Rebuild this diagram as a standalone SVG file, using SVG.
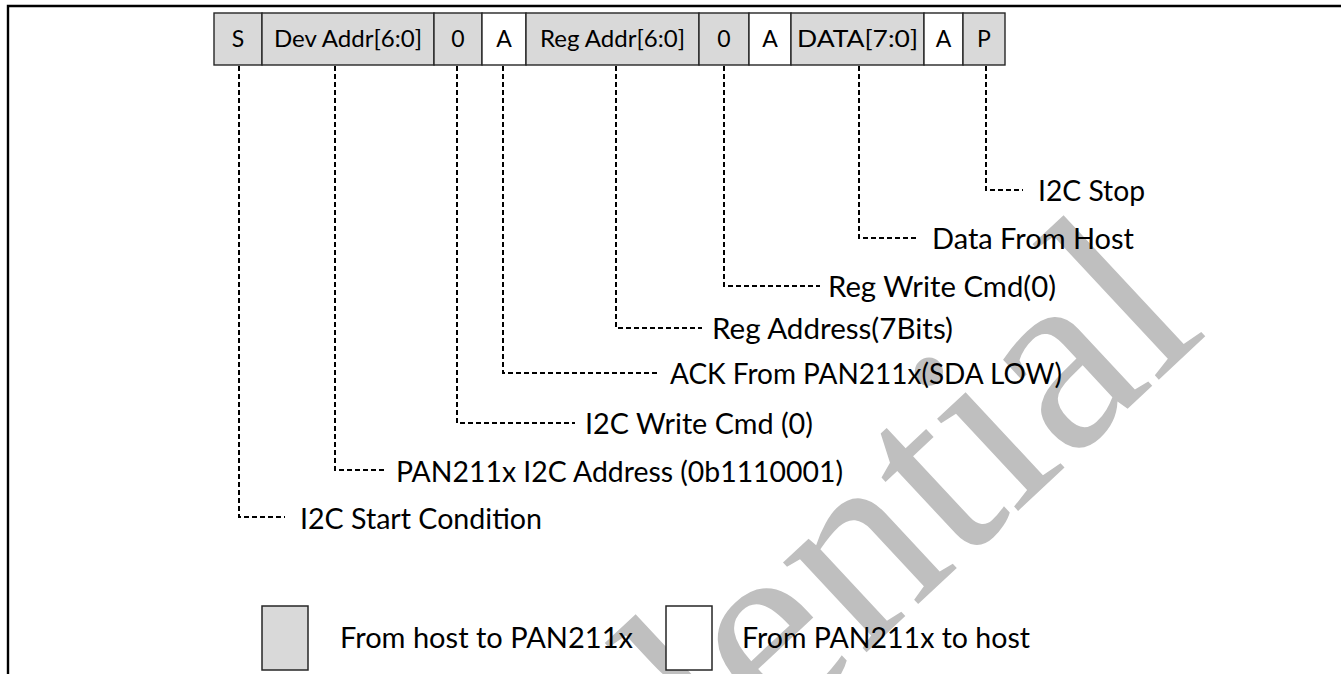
<svg xmlns="http://www.w3.org/2000/svg" width="1341" height="674" viewBox="0 0 1341 674">
<defs>
<style>
.wm{font-family:"Liberation Serif","Times New Roman",serif;font-size:267px;fill:#bfbfbf}
.cell{stroke:#262626;stroke-width:1.4}
.g{fill:#d9d9d9}
.w{fill:#ffffff}
.ct{font-family:Lato,"Liberation Sans",sans-serif;font-size:23px;fill:#000;text-anchor:middle}
.lt{font-family:Lato,"Liberation Sans",sans-serif;font-size:28.5px;fill:#000}
.dash{fill:none;stroke:#000;stroke-width:2;stroke-dasharray:5 3}
.frame{fill:none;stroke:#000;stroke-width:2.4}
.leg{stroke:#262626;stroke-width:1.5}
</style>
</defs>
<rect width="1341" height="674" fill="#ffffff"/>
<g id="watermark">
<text class="wm" transform="translate(233,1243) rotate(-43)">Confidential</text>
</g>
<path id="frame" class="frame" d="M8,674 V6 H1341"/>
<g id="connectors">
<path class="dash" d="M239,66 V517 H285"/>
<path class="dash" d="M335,66 V470 H385"/>
<path class="dash" d="M457,66 V423 H575"/>
<path class="dash" d="M503,66 V373 H658"/>
<path class="dash" d="M616,66 V328 H702"/>
<path class="dash" d="M724,66 V286 H820"/>
<path class="dash" d="M859,66 V238 H918"/>
<path class="dash" d="M986,66 V190 H1023"/>
</g>
<g id="cell-s"><rect class="cell g" x="214" y="13" width="48" height="52"/><text class="ct" x="238" y="47">S</text></g>
<g id="cell-devaddr"><rect class="cell g" x="262" y="13" width="172" height="52"/><text class="ct" x="348" y="47" textLength="148" lengthAdjust="spacingAndGlyphs">Dev Addr[6:0]</text></g>
<g id="cell-w0"><rect class="cell g" x="434" y="13" width="48" height="52"/><text class="ct" x="458" y="47">0</text></g>
<g id="cell-a1"><rect class="cell w" x="482" y="13" width="44" height="52"/><text class="ct" x="504" y="47">A</text></g>
<g id="cell-regaddr"><rect class="cell g" x="526" y="13" width="173" height="52"/><text class="ct" x="612.5" y="47" textLength="145" lengthAdjust="spacingAndGlyphs">Reg Addr[6:0]</text></g>
<g id="cell-r0"><rect class="cell g" x="699" y="13" width="50" height="52"/><text class="ct" x="724" y="47">0</text></g>
<g id="cell-a2"><rect class="cell w" x="749" y="13" width="42" height="52"/><text class="ct" x="770" y="47">A</text></g>
<g id="cell-data"><rect class="cell g" x="791" y="13" width="133" height="52"/><text class="ct" x="857.5" y="47" textLength="121" lengthAdjust="spacingAndGlyphs">DATA[7:0]</text></g>
<g id="cell-a3"><rect class="cell w" x="924" y="13" width="39" height="52"/><text class="ct" x="943.5" y="47">A</text></g>
<g id="cell-p"><rect class="cell g" x="963" y="13" width="42" height="52"/><text class="ct" x="984" y="47">P</text></g>
<g id="label-start"><text class="lt" x="300" y="529" textLength="242" lengthAdjust="spacingAndGlyphs">I2C Start Condition</text></g>
<g id="label-devaddr"><text class="lt" x="396" y="482" textLength="447" lengthAdjust="spacingAndGlyphs">PAN211x I2C Address (0b1110001)</text></g>
<g id="label-write"><text class="lt" x="585" y="434" textLength="228" lengthAdjust="spacingAndGlyphs">I2C Write Cmd (0)</text></g>
<g id="label-ack"><text class="lt" x="670" y="384" textLength="392" lengthAdjust="spacingAndGlyphs">ACK From PAN211x(SDA LOW)</text></g>
<g id="label-regaddr"><text class="lt" x="712" y="339" textLength="241" lengthAdjust="spacingAndGlyphs">Reg Address(7Bits)</text></g>
<g id="label-regwrite"><text class="lt" x="828" y="297" textLength="228" lengthAdjust="spacingAndGlyphs">Reg Write Cmd(0)</text></g>
<g id="label-data"><text class="lt" x="932" y="249" textLength="202" lengthAdjust="spacingAndGlyphs">Data From Host</text></g>
<g id="label-stop"><text class="lt" x="1038" y="201" textLength="107" lengthAdjust="spacingAndGlyphs">I2C Stop</text></g>
<g id="legend-host"><rect class="leg g" x="262" y="606" width="46" height="64"/><text class="lt" x="340" y="648" textLength="293" lengthAdjust="spacingAndGlyphs">From host to PAN211x</text></g>
<g id="legend-dev"><rect class="leg w" x="666" y="606" width="46" height="64"/><text class="lt" x="742" y="648" textLength="288" lengthAdjust="spacingAndGlyphs">From PAN211x to host</text></g>
</svg>
